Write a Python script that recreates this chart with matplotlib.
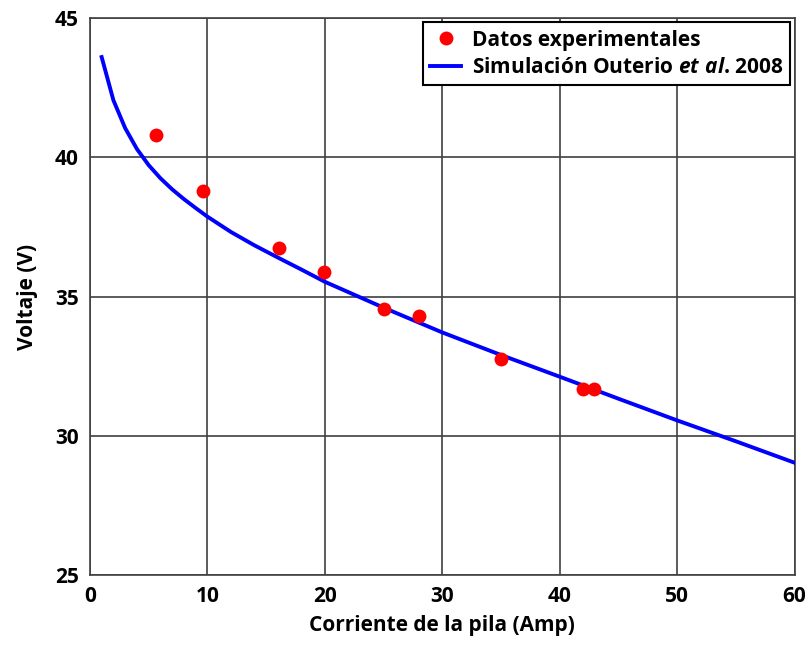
import numpy as np
import matplotlib
matplotlib.use("Agg")
import matplotlib.pyplot as plt

# datos medidos en la pila
corriente_exp = [5.6, 9.6, 16.1, 19.9, 25.0, 28.0, 35.0, 42.0, 42.9]
voltaje_exp = [40.79, 38.79, 36.76, 35.88, 34.55, 34.3, 32.76, 31.69, 31.69]

# curva simulada (Outerio et al. 2008)
corriente_sim = [1, 2, 3, 4, 5, 6, 7, 8, 9, 10, 12, 14, 16, 18, 20, 25, 30, 35, 40, 45, 50, 55, 60]
voltaje_sim = [43.6, 42.05, 41.05, 40.3, 39.72, 39.25, 38.85, 38.5, 38.18, 37.87,
               37.32, 36.84, 36.4, 35.97, 35.53, 34.6, 33.71, 32.9, 32.12, 31.33,
               30.55, 29.8, 29.03]

xticks = [0, 10, 20, 30, 40, 50, 60]
yticks = [25, 30, 35, 40, 45]

fuentes = ['Open Sans', 'DejaVu Sans']
plt.rcParams['font.family'] = fuentes
plt.rcParams['font.weight'] = 'bold'
plt.rcParams['mathtext.fontset'] = 'custom'
plt.rcParams['mathtext.rm'] = 'Open Sans:bold'
plt.rcParams['mathtext.it'] = 'Open Sans:bold:italic'

fig = plt.figure(figsize=(8.1, 6.46), dpi=100)
ax = fig.add_axes([0.111, 0.110, 0.870, 0.862])

ax.plot(corriente_sim, voltaje_sim, color='#0000ff', lw=2.8,
        label=r'Simulación Outerio $\it{et\ al}$. 2008', zorder=3)
ax.plot(corriente_exp, voltaje_exp, 'o', color='#ff0000', ms=10, mec='none',
        label='Datos experimentales', zorder=4)

ax.set_xlim(0, 60)
ax.set_ylim(25, 45)
ax.set_xticks(xticks)
ax.set_yticks(yticks)
ax.grid(True, color='#404040', lw=1.2)
ax.set_axisbelow(True)
ax.tick_params(length=0, labelsize=15, pad=8)
for s in ax.spines.values():
    s.set_color('#404040')
    s.set_linewidth(1.2)

ax.set_xlabel('Corriente de la pila (Amp)', fontsize=15, fontweight='bold', labelpad=6)
ax.set_ylabel('Voltaje (V)', fontsize=15, fontweight='bold', labelpad=12)

h, l = ax.get_legend_handles_labels()
leg = ax.legend(h[::-1], l[::-1], loc='upper right', fontsize=15, frameon=True,
                fancybox=False, edgecolor='black', framealpha=1,
                borderpad=0.35, labelspacing=0.3, handlelength=1.5,
                handletextpad=0.5, borderaxespad=0.2)
leg.get_frame().set_linewidth(1.5)

fig.savefig('out.png', dpi=100)
